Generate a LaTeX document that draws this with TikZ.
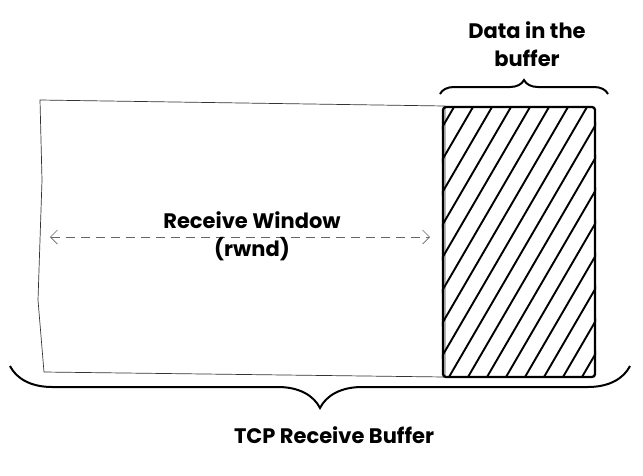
\documentclass[tikz,border=0pt]{standalone}
\usepackage{fontspec}
\setmainfont{Poppins}
\usetikzlibrary{calc,positioning,arrows.meta,decorations.pathreplacing}

\begin{document}
\begin{tikzpicture}[x=1pt,y=-1pt,
label/.style={font=\bfseries\fontsize{21}{28}\selectfont,align=center},
buffer/.style={draw=black!80,line width=0.7},
hatch/.style={line width=1.9},
curly/.style={decorate,decoration={brace,amplitude=#1},line width=2},
>={Straight Barb[length=7pt,width=14pt]}]
\useasboundingbox (0,0) rectangle (643,475);
% receive buffer outline
\draw[buffer] (40,100) coordinate (bufTL) -- (445,106) coordinate (bufTR)
  -- (445,377) coordinate (bufBR) -- (44,372) coordinate (bufBL)
  -- (38,300) -- (42,180) -- cycle;
% data already in the buffer
\node (data) [draw,line width=2.3,rounded corners=3,minimum width=152,minimum height=270,inner sep=0] at (519,242){};
\begin{scope}
\clip (data.south west) rectangle (data.north east);
\foreach \x in {259,278,...,600}
  \draw[hatch] (\x,377) -- ++(157,-270);
\end{scope}
% receive window
\coordinate (rwndL) at (50,237);
\coordinate (rwndR) at (430,237);
\draw[<->,dashed,black!60,line width=0.7,dash pattern=on 9pt off 6pt] (rwndL) -- (rwndR);
\node (rwnd) [label] at (252,236){Receive Window\\(rwnd)};
% braces
\coordinate (topL) at (440,94);
\coordinate (topR) at (608,94);
\draw[curly=14pt] (topL) -- (topR);
\node (inbuf) [label] at (527,44){Data in the\\buffer};
\coordinate (botR) at (630,366);
\coordinate (botL) at (10,366);
\draw[curly=42pt] (botR) -- (botL);
\node (tcp) [label] at (334,435){TCP Receive Buffer};
\end{tikzpicture}
\end{document}
